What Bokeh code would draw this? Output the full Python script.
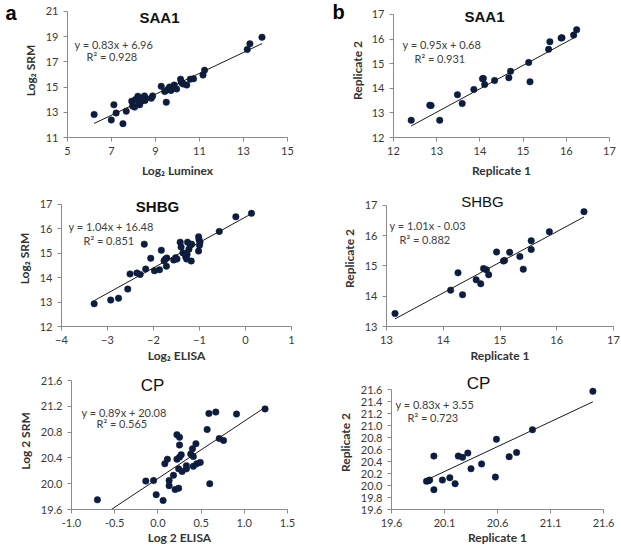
from bokeh.plotting import figure
from bokeh.layouts import column, row
from bokeh.models import Range1d, FixedTicker, PrintfTickFormatter, Label
from bokeh.embed import file_html
from bokeh.resources import INLINE

# ---------------- data ----------------
a_saa1_x = [6.21, 6.99, 7.11, 7.21, 7.52, 7.67, 7.92, 7.96, 8.05, 8.09, 8.20, 8.20, 8.28, 8.36, 8.40,
            8.50, 8.52, 8.56, 8.81, 8.87, 9.26, 9.42, 9.49, 9.55, 9.64, 9.70, 9.85, 9.96, 10.14,
            10.17, 10.20, 10.26, 10.42, 10.58, 10.73, 11.16, 11.23, 13.17, 13.29, 13.84]
a_saa1_y = [12.83, 12.39, 13.59, 12.94, 12.10, 13.09, 13.88, 13.49, 13.41, 14.01, 14.27, 13.96, 13.59, 13.88, 14.12,
            14.30, 13.93, 14.09, 14.12, 14.30, 15.06, 14.64, 13.80, 14.80, 15.01, 14.72, 15.16, 14.85, 15.63,
            15.42, 15.32, 15.24, 15.16, 15.63, 15.66, 15.95, 16.34, 17.99, 18.43, 18.95]
a_saa1_fit = [0.83, 6.96]
a_saa1_eq = ["y = 0.83x + 6.96", "R\u00b2 = 0.928"]
a_saa1_xticks = [5, 7, 9, 11, 13, 15]
a_saa1_yticks = [11, 13, 15, 17, 19, 21]

b_saa1_x = [12.41, 12.84, 12.87, 13.07, 13.48, 13.59, 13.86, 14.06, 14.08, 14.11, 14.34, 14.67, 14.71,
            15.13, 15.16, 15.59, 15.62, 15.88, 15.90, 16.17, 16.24]
b_saa1_y = [12.70, 13.31, 13.30, 12.70, 13.74, 13.38, 13.95, 14.39, 14.40, 14.15, 14.32, 14.43, 14.69,
            15.05, 14.26, 15.58, 15.89, 16.04, 16.05, 16.16, 16.38]
b_saa1_fit = [0.95, 0.68]
b_saa1_eq = ["y = 0.95x + 0.68", "R\u00b2 = 0.931"]
b_saa1_ticks = [12, 13, 14, 15, 16, 17]

a_shbg_x = [-3.29, -2.93, -2.76, -2.56, -2.51, -2.36, -2.29, -2.20, -2.17, -2.06, -1.98, -1.87, -1.83,
            -1.77, -1.74, -1.72, -1.71, -1.56, -1.52, -1.49, -1.42, -1.40, -1.36, -1.30, -1.28, -1.27,
            -1.26, -1.23, -1.20, -1.18, -1.17, -1.02, -1.01, -1.00, -1.02, -0.99, -0.57, -0.21, 0.13]
a_shbg_y = [12.93, 13.08, 13.16, 13.53, 14.15, 14.19, 14.13, 15.37, 14.35, 14.79, 14.28, 14.32, 15.12,
            14.69, 14.76, 14.47, 14.80, 14.72, 14.81, 14.76, 15.45, 15.25, 15.01, 14.85, 14.76, 14.95,
            15.45, 15.16, 15.32, 14.68, 15.37, 15.67, 15.56, 15.32, 15.09, 15.45, 15.89, 16.49, 16.63]
a_shbg_fit = [1.04, 16.48]
a_shbg_eq = ["y = 1.04x + 16.48", "R\u00b2 = 0.851"]
a_shbg_xticks = [-4, -3, -2, -1, 0, 1]
a_shbg_yticks = [12, 13, 14, 15, 16, 17]

b_shbg_x = [13.15, 14.13, 14.26, 14.34, 14.58, 14.66, 14.71, 14.76, 14.80, 14.94, 15.06, 15.08, 15.17,
            15.35, 15.41, 15.55, 15.55, 15.87, 16.48]
b_shbg_y = [13.43, 14.20, 14.77, 14.05, 14.54, 14.41, 14.91, 14.87, 14.71, 15.46, 15.16, 15.18, 15.45,
            15.31, 14.89, 15.83, 15.54, 16.13, 16.79]
b_shbg_fit = [1.01, -0.03]
b_shbg_eq = ["y = 1.01x - 0.03", "R\u00b2 = 0.882"]
b_shbg_ticks = [13, 14, 15, 16, 17]

a_cp_x = [-0.70, -0.14, -0.05, -0.02, 0.06, 0.08, 0.11, 0.13, 0.13, 0.18, 0.20, 0.24, 0.22, 0.25, 0.22,
          0.25, 0.25, 0.24, 0.27, 0.28, 0.33, 0.33, 0.38, 0.40, 0.41, 0.41, 0.44, 0.45, 0.49, 0.57,
          0.59, 0.60, 0.67, 0.71, 0.76, 0.91, 1.24]
a_cp_y = [19.75, 20.04, 20.05, 19.83, 19.74, 20.31, 20.38, 20.05, 19.97, 20.13, 19.91, 19.93, 20.76, 20.72, 20.38,
          20.41, 20.60, 20.23, 20.45, 20.19, 20.28, 20.23, 20.46, 20.54, 20.42, 20.27, 20.62, 20.31, 20.33, 20.84,
          21.09, 20.00, 21.11, 20.70, 20.67, 21.08, 21.16]
a_cp_fit = [0.89, 20.08]
a_cp_eq = ["y = 0.89x + 20.08", "R\u00b2 = 0.565"]
a_cp_xticks = [-1.0, -0.5, 0.0, 0.5, 1.0, 1.5]
a_cp_yticks = [19.6, 20.0, 20.4, 20.8, 21.2, 21.6]

b_cp_x = [19.93, 19.95, 19.96, 20.00, 20.00, 20.08, 20.15, 20.20, 20.23, 20.27, 20.32, 20.35, 20.45,
          20.58, 20.59, 20.71, 20.78, 20.93, 21.50]
b_cp_y = [20.07, 20.08, 20.09, 20.49, 19.93, 20.09, 20.13, 20.03, 20.49, 20.47, 20.54, 20.28, 20.36,
          20.14, 20.77, 20.48, 20.55, 20.93, 21.57]
b_cp_fit = [0.83, 3.55]
b_cp_eq = ["y = 0.83x + 3.55", "R\u00b2 = 0.723"]
b_cp_xticks = [19.6, 20.1, 20.6, 21.1, 21.6]
b_cp_yticks = [19.6, 19.8, 20.0, 20.2, 20.4, 20.6, 20.8, 21.0, 21.2, 21.4, 21.6]

panel_letters = ["a", "b"]

# ---------------- styling ----------------
TXT_FONT = "Lato"
TITLE_FONT = "Liberation Sans"
DOT = "#0c1d40"
AXIS_COL = "#8a8a8a"
TICK_TXT = "#3a3a3a"

# rows: (page top, common frame top, common frame bottom, page bottom)
ROW1 = (0, 3, 138, 180)
ROW2 = (180, 190, 328, 365)
ROW3 = (365, 372, 509, 548)


def panel(rowspec, xspan, real_top, xrng, yrng, xticks, yticks, fmt, xlabel, ylabel,
          xs, ys, fit, eq, title, title_size, title_bold, tpos, epos, rpos,
          xlab_stand=5, ylab_stand=5):
    cy0, ft, fb, cy1 = rowspec
    cx0, fx0, fx1, cx1 = xspan
    ext = real_top - ft
    real_h = fb - real_top
    y_end = yrng[1] + ext * (yrng[1] - yrng[0]) / real_h
    p = figure(width=cx1 - cx0, height=cy1 - cy0,
               x_range=Range1d(xrng[0], xrng[1]), y_range=Range1d(yrng[0], y_end),
               output_backend="svg", toolbar_location=None,
               min_border_top=ft - cy0, min_border_left=fx0 - cx0, min_border_bottom=cy1 - fb,
               min_border_right=cx1 - fx1)
    p.xgrid.visible = False
    p.ygrid.visible = False
    p.outline_line_color = None
    for ax, ticks, lab in ((p.xaxis[0], xticks, xlabel), (p.yaxis[0], yticks, ylabel)):
        ax.ticker = FixedTicker(ticks=ticks)
        if fmt:
            ax.formatter = PrintfTickFormatter(format=fmt)
        ax.axis_line_color = AXIS_COL
        ax.major_tick_line_color = AXIS_COL
        ax.minor_tick_line_color = None
        ax.major_tick_in = 0
        ax.major_tick_out = 4
        ax.major_label_standoff = 5
        ax.major_label_text_font = TXT_FONT
        ax.major_label_text_font_size = "11px"
        ax.major_label_text_color = TICK_TXT
        ax.axis_label = lab
        ax.axis_label_text_font = TXT_FONT
        ax.axis_label_text_font_size = "12px"
        ax.axis_label_text_font_style = "bold"
        ax.axis_label_text_color = "#333333"
    p.xaxis[0].axis_label_standoff = xlab_stand
    p.yaxis[0].axis_label_standoff = ylab_stand
    p.yaxis[0].bounds = (yrng[0], yrng[1])

    p.scatter(xs, ys, size=6.5, fill_color=DOT, line_color=DOT, line_width=0.5)
    x0, x1 = min(xs), max(xs)
    p.line([x0, x1], [fit[0] * x0 + fit[1], fit[0] * x1 + fit[1]], line_color="#1a1a1a", line_width=1)

    def lab(pos, text, font, size, style, align, color):
        p.add_layout(Label(x=pos[0] - fx0, y=fb - pos[1], x_units="screen", y_units="screen",
                           text=text, text_font=font, text_font_size=size, text_font_style=style,
                           text_align=align, text_baseline="middle", text_color=color))

    lab(tpos, title, TITLE_FONT, title_size, "bold" if title_bold else "normal", "center", "#111111")
    lab(epos, eq[0], TXT_FONT, "11px", "normal", "left", "#404040")
    lab(rpos, eq[1], TXT_FONT, "11px", "normal", "left", "#404040")
    return p


def letter_fig(rowspec, width, text, lx, ly):
    cy0, ft, fb, cy1 = rowspec
    p = figure(width=width, height=cy1 - cy0, x_range=Range1d(0, 1), y_range=Range1d(0, 1),
               output_backend="svg", toolbar_location=None, x_axis_location=None,
               y_axis_location=None, min_border_top=ft - cy0, min_border_bottom=cy1 - fb,
               min_border_left=0, min_border_right=0)
    p.outline_line_color = None
    p.grid.visible = False
    p.grid.grid_line_color = None
    p.add_layout(Label(x=lx, y=fb - ly, x_units="screen", y_units="screen", text=text,
                       text_font="Liberation Sans", text_font_size="20px", text_font_style="bold",
                       text_align="left", text_baseline="middle", text_color="#000000"))
    return p


la = letter_fig(ROW1, 19, panel_letters[0], 5, 13)
p1 = panel(ROW1, (19, 61, 287, 310), 11, (5, 15), (11, 21), a_saa1_xticks, a_saa1_yticks, None,
           "Log\u2082 Luminex", "Log\u2082 SRM", a_saa1_x, a_saa1_y, a_saa1_fit, a_saa1_eq,
           "SAA1", "15px", True, (153, 18), (68, 45), (80, 57))
lb = letter_fig(ROW1, 36, panel_letters[1], 22, 12)
p2 = panel(ROW1, (346, 387, 609, 621), 14, (12, 17), (12, 17), b_saa1_ticks, b_saa1_ticks, None,
           "Replicate 1", "Replicate 2", b_saa1_x, b_saa1_y, b_saa1_fit, b_saa1_eq,
           "SAA1", "15px", True, (478, 17), (396, 45), (408, 59), ylab_stand=4)
p3 = panel(ROW2, (0, 61, 291, 310), 204, (-4, 1), (12, 17), a_shbg_xticks, a_shbg_yticks, None,
           "Log\u2082 ELISA", "Log\u2082 SRM", a_shbg_x, a_shbg_y, a_shbg_fit, a_shbg_eq,
           "SHBG", "15px", True, (157, 208), (68, 228), (83, 242), xlab_stand=1)
p4 = panel(ROW2, (310, 386, 613, 621), 205, (13, 17), (13, 17), b_shbg_ticks, b_shbg_ticks, None,
           "Replicate 1", "Replicate 2", b_shbg_x, b_shbg_y, b_shbg_fit, b_shbg_eq,
           "SHBG", "15px", False, (482, 203), (389, 227), (399, 241), xlab_stand=1)
p5 = panel(ROW3, (0, 71, 287, 310), 380, (-1.0, 1.5), (19.6, 21.6), a_cp_xticks, a_cp_yticks, "%.1f",
           "Log 2 ELISA", "Log 2 SRM", a_cp_x, a_cp_y, a_cp_fit, a_cp_eq,
           "CP", "17px", False, (152, 385), (81, 412), (96, 423), xlab_stand=0)
p6 = panel(ROW3, (310, 391, 603, 621), 389, (19.6, 21.6), (19.6, 21.6), b_cp_xticks, b_cp_yticks, "%.1f",
           "Replicate 1", "Replicate  2", b_cp_x, b_cp_y, b_cp_fit, b_cp_eq,
           "CP", "17px", False, (478, 383), (395, 404), (407, 417), xlab_stand=0)

layout = column(row(la, p1, lb, p2), row(p3, p4), row(p5, p6))

open("out.html", "w").write(file_html(layout, INLINE))
